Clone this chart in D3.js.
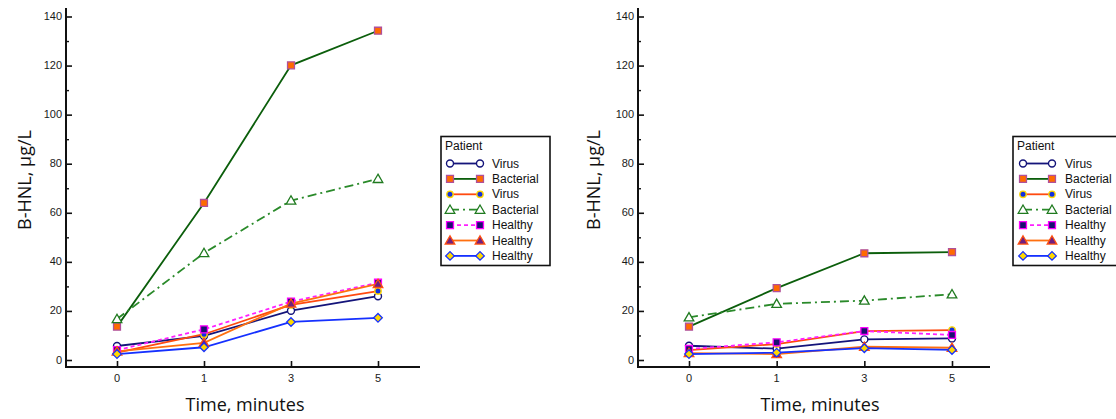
<!DOCTYPE html>
<html>
<head>
<meta charset="utf-8">
<script src="https://cdn.jsdelivr.net/npm/d3@7"></script>
<style>
  body { margin: 0; background: #fff; }
  svg { display: block; }
</style>
</head>
<body>
<div id="chart"></div>
<script>
// time points (categorical x axis)
const timeLabels = ["0", "1", "3", "5"];
const yTicks = [0, 20, 40, 60, 80, 100, 120, 140];
const yMinorTicks = [10, 30, 50, 70, 90, 110, 130];
const patientLabels = ["Virus", "Bacterial", "Virus", "Bacterial", "Healthy", "Healthy", "Healthy"];

// left panel, one row per patient
const panelAValues = [
  [5.7, 9.8, 20.1, 26.0],
  [13.6, 64.0, 120.1, 134.2],
  [3.0, 10.5, 22.5, 28.1],
  [16.7, 43.6, 65.0, 73.8],
  [4.0, 12.5, 23.8, 31.5],
  [3.5, 7.0, 23.0, 31.0],
  [2.4, 5.2, 15.5, 17.2]
];
// right panel
const panelBValues = [
  [5.8, 4.6, 8.4, 8.8],
  [13.6, 29.3, 43.5, 44.0],
  [4.0, 6.5, 11.8, 12.2],
  [17.4, 22.9, 24.2, 26.8],
  [4.5, 7.2, 11.8, 10.2],
  [2.8, 2.4, 5.4, 5.0],
  [2.4, 3.0, 4.8, 4.1]
];

// line / marker style per patient
const styles = [
  {line: "#14147a", dash: null, marker: "circle", fill: "#fff", stroke: "#14147a"},
  {line: "#0b5e0b", dash: null, marker: "square", fill: "#ff6a00", stroke: "#b0509a"},
  {line: "#ff4a10", dash: null, marker: "dot", fill: "#1030e0", stroke: "#ffd800"},
  {line: "#2a8a2a", dash: "9,4,2,4", marker: "triangle", fill: "#fff", stroke: "#1f7a1f"},
  {line: "#ff20ff", dash: "4,3", marker: "square", fill: "#1a1070", stroke: "#ff00ff"},
  {line: "#ff7010", dash: null, marker: "triangle", fill: "#702080", stroke: "#ff5010"},
  {line: "#1530ff", dash: null, marker: "diamond", fill: "#ffd800", stroke: "#1530ff"}
];

const W = 1116, H = 419;
const svg = d3.select("#chart").append("svg").attr("width", W).attr("height", H);

function drawMarker(g, type, x, y, st) {
  if (type === "circle" || type === "dot") {
    g.append("circle").attr("cx", x).attr("cy", y).attr("r", type === "dot" ? 3.2 : 3.5)
      .attr("fill", st.fill).attr("stroke", st.stroke).attr("stroke-width", 1.4);
  } else if (type === "diamond") {
    const r = 4.3;
    g.append("path").attr("d", `M${x},${y - r}L${x + r},${y}L${x},${y + r}L${x - r},${y}Z`)
      .attr("fill", st.fill).attr("stroke", st.stroke).attr("stroke-width", 1.3);
  } else {
    const sym = type === "square" ? d3.symbolSquare : d3.symbolTriangle;
    const size = type === "square" ? 48 : 40;
    g.append("path").attr("d", d3.symbol().type(sym).size(size)())
      .attr("transform", `translate(${x},${y + (type === "triangle" ? 0.8 : 0)})`)
      .attr("fill", st.fill).attr("stroke", st.stroke).attr("stroke-width", 1.3);
  }
}

function drawPanel(cfg, values) {
  const g = svg.append("g");
  const y = d3.scaleLinear().domain([0, 140]).range([360, 16.5]);
  const x = d3.scalePoint().domain(timeLabels).range([cfg.x0, cfg.x5]);

  // y axis, ticks inside
  const yAxis = d3.axisRight(y).tickValues(yTicks).tickSize(6).tickFormat("");
  const ya = g.append("g").attr("transform", `translate(${cfg.axisX},0)`).call(yAxis);
  ya.select(".domain").remove();
  ya.selectAll("line").attr("stroke", "#111").attr("stroke-width", 1.6);
  const yMinor = d3.axisRight(y).tickValues(yMinorTicks).tickSize(3).tickFormat("");
  const ym = g.append("g").attr("transform", `translate(${cfg.axisX},0)`).call(yMinor);
  ym.select(".domain").remove();
  ym.selectAll("line").attr("stroke", "#111").attr("stroke-width", 1.4);
  g.selectAll(".ylab").data(yTicks).enter().append("text")
    .attr("x", cfg.axisX - 4).attr("y", d => y(d) + 3.5)
    .attr("text-anchor", "end").attr("font-family", "Liberation Sans, Arial")
    .attr("font-size", 11).attr("fill", "#1a1a1a").text(d => d);
  g.append("line").attr("x1", cfg.axisX).attr("x2", cfg.axisX).attr("y1", 8).attr("y2", 367)
    .attr("stroke", "#111").attr("stroke-width", 2);

  // x axis
  const xAxis = d3.axisTop(x).tickSize(6).tickFormat("");
  const xa = g.append("g").attr("transform", "translate(0,367)").call(xAxis);
  xa.select(".domain").remove();
  xa.selectAll("line").attr("stroke", "#111").attr("stroke-width", 1.6);
  g.append("line").attr("x1", cfg.axisX - 1).attr("x2", cfg.xEnd).attr("y1", 367).attr("y2", 367)
    .attr("stroke", "#111").attr("stroke-width", 2);
  g.selectAll(".xlab").data(timeLabels).enter().append("text")
    .attr("x", d => x(d)).attr("y", 382).attr("text-anchor", "middle")
    .attr("font-family", "Liberation Sans, Arial").attr("font-size", 11).attr("fill", "#1a1a1a")
    .text(d => d);

  // axis titles
  g.append("text").attr("x", cfg.titleX).attr("y", 411).attr("text-anchor", "middle")
    .attr("font-family", "Open Sans, sans-serif").attr("font-size", 18).attr("fill", "#111")
    .text("Time, minutes");
  g.append("text").attr("transform", `translate(${cfg.yTitleX},180) rotate(-90)`)
    .attr("text-anchor", "middle").attr("font-family", "Open Sans, sans-serif")
    .attr("font-size", 18).attr("fill", "#111").text("B-HNL, µg/L");

  // series
  const line = d3.line().x((d, i) => x(timeLabels[i])).y(d => y(d));
  values.forEach((vals, k) => {
    const st = styles[k];
    g.append("path").attr("d", line(vals)).attr("fill", "none")
      .attr("stroke", st.line).attr("stroke-width", 1.8)
      .attr("stroke-dasharray", st.dash);
  });
  values.forEach((vals, k) => {
    vals.forEach((v, i) => drawMarker(g, styles[k].marker, x(timeLabels[i]), y(v), styles[k]));
  });

  // legend
  const lg = g.append("g");
  lg.append("rect").attr("x", cfg.legX).attr("y", 136.5).attr("width", cfg.legW).attr("height", 129)
    .attr("fill", "#fff").attr("stroke", "#111").attr("stroke-width", 1.6);
  lg.append("text").attr("x", cfg.legX + 4).attr("y", 150).attr("font-family", "Liberation Sans, Arial")
    .attr("font-size", 12).attr("fill", "#111").text("Patient");
  patientLabels.forEach((name, k) => {
    const st = styles[k];
    const ly = 163.5 + k * 15.4;
    lg.append("line").attr("x1", cfg.symX0).attr("x2", cfg.symX1).attr("y1", ly).attr("y2", ly)
      .attr("stroke", st.line).attr("stroke-width", 1.8).attr("stroke-dasharray", st.dash);
    drawMarker(lg, st.marker, cfg.symX0, ly, st);
    drawMarker(lg, st.marker, cfg.symX1, ly, st);
    lg.append("text").attr("x", cfg.textX).attr("y", ly + 4).attr("font-family", "Liberation Sans, Arial")
      .attr("font-size", 12).attr("fill", "#111").text(name);
  });
}

drawPanel({axisX: 66, x0: 117, x5: 378, xEnd: 420, titleX: 245, yTitleX: 31,
  legX: 441, legW: 109, symX0: 450, symX1: 480, textX: 492}, panelAValues);
drawPanel({axisX: 638, x0: 689, x5: 952, xEnd: 990, titleX: 820, yTitleX: 600,
  legX: 1013, legW: 120, symX0: 1023, symX1: 1052, textX: 1065}, panelBValues);
</script>
</body>
</html>
